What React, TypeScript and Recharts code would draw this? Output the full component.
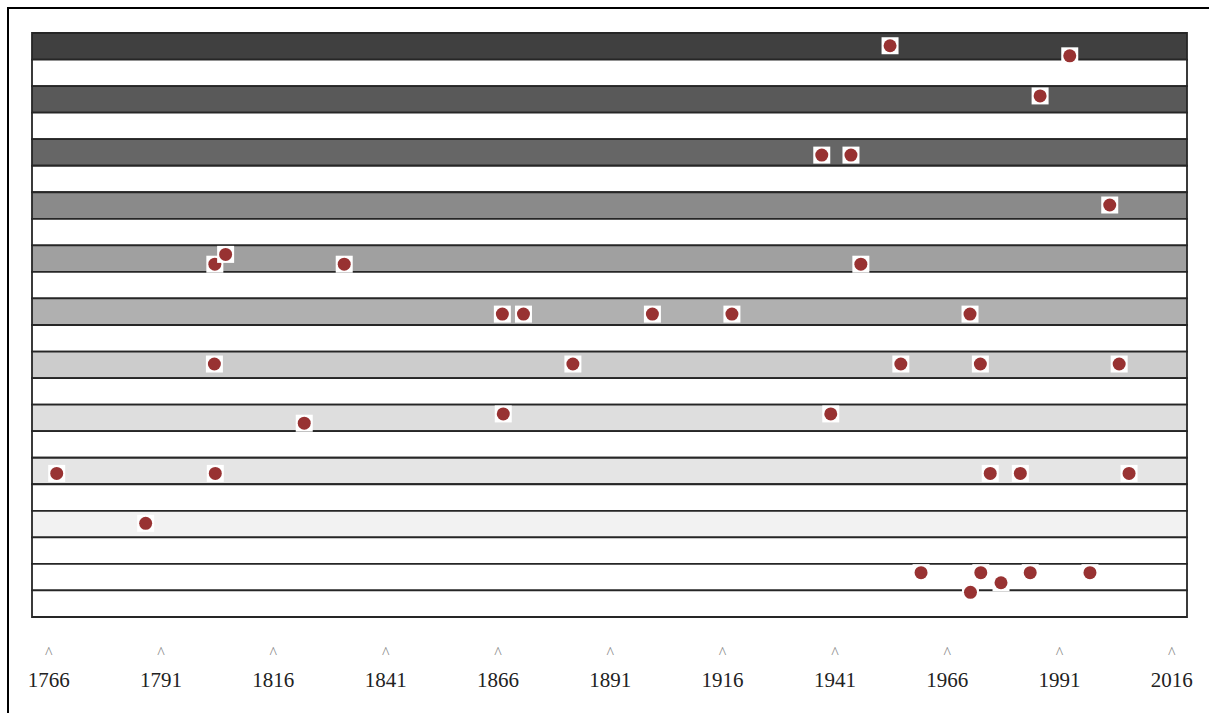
import { ScatterChart, Scatter, XAxis, YAxis, ReferenceArea } from 'recharts'

// tick years along the bottom
const YEAR_TICKS = [1766, 1791, 1816, 1841, 1866, 1891, 1916, 1941, 1966, 1991, 2016]

// 22 horizontal rows, every other one shaded
const ROW_COUNT = 22

// one entry per event: year and vertical position (in row units, 0 = top)
const EVENT_YEARS = [
  1953.5, 1993.5, 1986.9, 1938.3, 1944.8, 2002.4,
  1803.2, 1805.6, 1832.0, 1947.0,
  1867.2, 1871.9, 1900.6, 1918.3, 1971.3,
  1803.1, 1882.9, 1955.9, 1973.6, 2004.5,
  1823.1, 1867.4, 1940.3,
  1768.0, 1803.3, 1975.8, 1982.5, 2006.7,
  1787.8,
  1960.4, 1971.4, 1973.7, 1978.2, 1984.7, 1998.0,
]
const EVENT_LANES = [
  0.48, 0.86, 2.37, 4.6, 4.6, 6.48,
  8.71, 8.34, 8.71, 8.71,
  10.59, 10.59, 10.59, 10.59, 10.59,
  12.47, 12.47, 12.47, 12.47, 12.47,
  14.7, 14.35, 14.35,
  16.59, 16.59, 16.59, 16.59, 16.59,
  18.47,
  20.33, 21.07, 20.33, 20.71, 20.33, 20.33,
]

const SHADES = ['#404040', '#595959', '#666666', '#8a8a8a', '#a0a0a0', '#b0b0b0', '#cccccc', '#dedede', '#e5e5e5', '#f2f2f2', '#ffffff']

const events = EVENT_YEARS.map((year, i) => ({ year, lane: EVENT_LANES[i] }))
const rows = Array.from({ length: ROW_COUNT }, (_, i) => i)

const SERIF = '"Liberation Serif", "Times New Roman", serif'

function YearTick({ x, y, payload }: { x?: number; y?: number; payload?: { value: number } }) {
  if (x == null || y == null || !payload) return null
  return (
    <g>
      <text x={x + 1} y={y + 41} textAnchor="middle" fontSize={16} fill="#888" fontFamily={SERIF}>^</text>
      <text x={x + 1} y={y + 70} textAnchor="middle" fontSize={21} fill="#222" fontFamily={SERIF}>{payload.value}</text>
    </g>
  )
}

function Marker({ cx, cy }: { cx?: number; cy?: number }) {
  if (cx == null || cy == null) return <g />
  return (
    <g>
      <rect x={cx - 8.5} y={cy - 8.5} width={17} height={17} fill="#fff" />
      <circle cx={cx} cy={cy} r={6.5} fill="#983232" />
    </g>
  )
}

export default function App() {
  return (
    <div style={{ position: 'absolute', left: 7, top: 7, width: 1202, height: 706, borderLeft: '2px solid #000', borderTop: '2px solid #000' }}>
      <ScatterChart width={1190} height={704} margin={{ top: 24, right: 12, bottom: 6, left: 23 }}>
        <XAxis
          type="number"
          dataKey="year"
          domain={[1762.5, 2019.6]}
          ticks={YEAR_TICKS}
          allowDataOverflow
          axisLine={false}
          tickLine={false}
          tickSize={0}
          tickMargin={0}
          height={90}
          tick={<YearTick />}
        />
        <YAxis type="number" dataKey="lane" domain={[0, ROW_COUNT]} reversed hide allowDataOverflow />
        {rows.map((i) => (
          <ReferenceArea
            key={i}
            y1={i}
            y2={i + 1}
            fill={i % 2 === 0 ? SHADES[i / 2] : '#ffffff'}
            fillOpacity={1}
            stroke="#262626"
            strokeWidth={1.8}
          />
        ))}
        <Scatter data={events} shape={<Marker />} isAnimationActive={false} />
      </ScatterChart>
    </div>
  )
}
